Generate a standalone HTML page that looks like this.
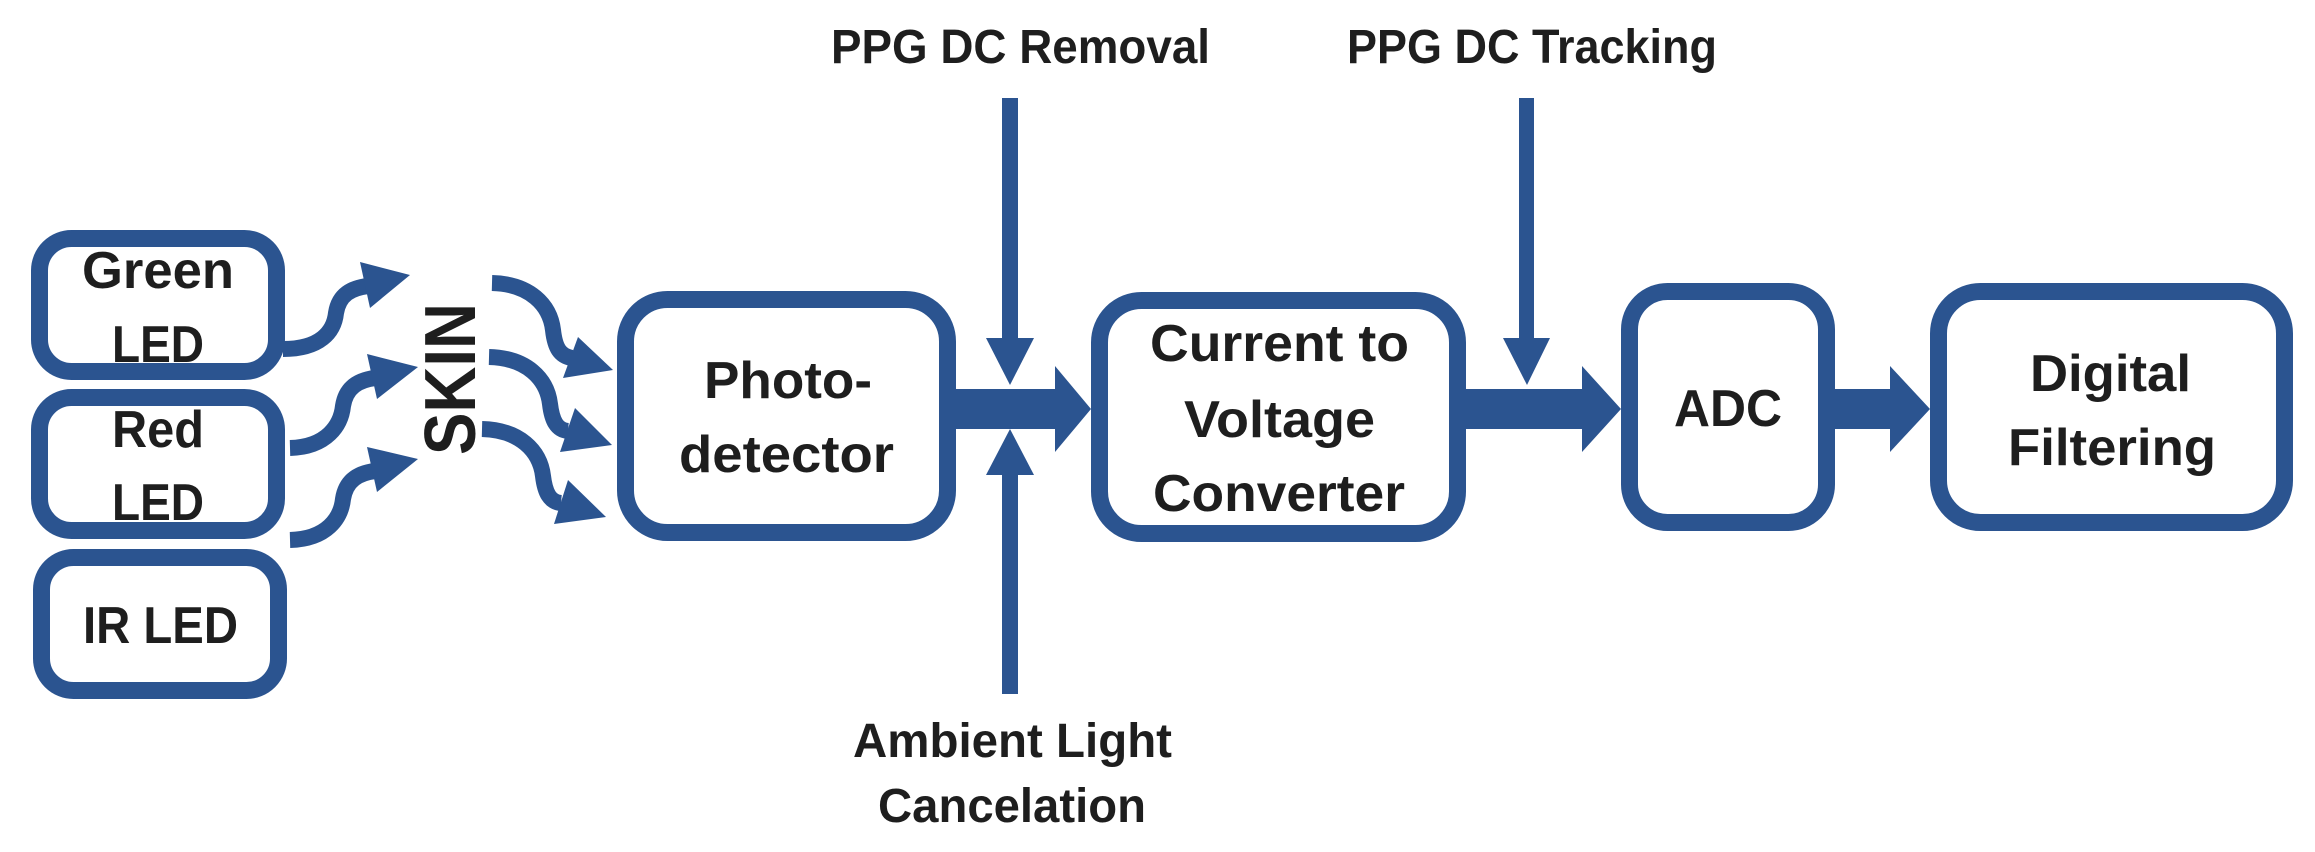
<!DOCTYPE html>
<html><head><meta charset="utf-8"><style>
html,body{margin:0;padding:0;background:#fff;}
svg{display:block;}
text{font-family:"Liberation Sans",sans-serif;font-weight:bold;fill:#1e1e1e;}
</style></head><body>
<svg width="2315" height="852" viewBox="0 0 2315 852" xmlns="http://www.w3.org/2000/svg">
<g fill="none" stroke="#2B5490" stroke-width="17">
<rect x="39.5" y="238.5" width="237" height="133" rx="32"/>
<rect x="39.5" y="397.5" width="237" height="133" rx="32"/>
<rect x="41.5" y="557.5" width="237" height="133" rx="32"/>
<rect x="625.5" y="299.5" width="322" height="233" rx="42"/>
<rect x="1099.5" y="300.5" width="358" height="233" rx="42"/>
<rect x="1629.5" y="291.5" width="197" height="231" rx="38"/>
<rect x="1938.5" y="291.5" width="346" height="231" rx="42"/>
</g>
<g fill="none" stroke="#2B5490" stroke-width="16">
<path d="M283 349 C320 349 334 332 336 313 C339 294 352 288 368 286"/>
<path d="M290 448 C327 447 341 425 343 406 C346 387 359 380 375 378"/>
<path d="M290 540 C327 539 341 518 343 499 C346 480 359 473 375 471"/>
<path d="M492 283 C530 284 550 305 553 330 C555 348 560 356 572 358"/>
<path d="M489 357 C527 358 547 379 550 404 C552 421 557 430 568 431"/>
<path d="M482 429 C520 430 540 451 543 476 C545 493 550 502 561 503"/>
</g>
<g fill="#2B5490">
<polygon points="360,262 410,275 370,308"/>
<polygon points="367,354 418,367 377,399"/>
<polygon points="367,447 418,459 377,492"/>
<polygon points="578,337 613,370 563,378"/>
<polygon points="575,408 612,445 560,452"/>
<polygon points="568,480 606,517 554,524"/>
<!-- main arrows -->
<rect x="950" y="389" width="110" height="40"/>
<polygon points="1055,366 1091,409 1055,452"/>
<rect x="1462" y="389" width="125" height="40"/>
<polygon points="1582,366 1621,409 1582,452"/>
<rect x="1830" y="389" width="65" height="40"/>
<polygon points="1890,366 1930,409 1890,452"/>
<!-- vertical arrows -->
<rect x="1002" y="98" width="16" height="245"/>
<polygon points="986,338 1034,338 1010,385"/>
<rect x="1002" y="470" width="16" height="224"/>
<polygon points="986,475 1034,475 1010,429"/>
<rect x="1519" y="98" width="15" height="245"/>
<polygon points="1503,338 1550,338 1527,385"/>
</g>
<g font-size="48">
<text x="831" y="63" textLength="379" lengthAdjust="spacingAndGlyphs">PPG DC Removal</text>
<text x="1347" y="63" textLength="370" lengthAdjust="spacingAndGlyphs">PPG DC Tracking</text>
<text x="853" y="757" textLength="319" lengthAdjust="spacingAndGlyphs">Ambient Light</text>
<text x="878" y="822" textLength="268" lengthAdjust="spacingAndGlyphs">Cancelation</text>
</g>
<g font-size="52">
<text x="82" y="288" textLength="152" lengthAdjust="spacingAndGlyphs">Green</text>
<text x="112" y="362" textLength="92" lengthAdjust="spacingAndGlyphs">LED</text>
<text x="112" y="447" textLength="92" lengthAdjust="spacingAndGlyphs">Red</text>
<text x="112" y="520" textLength="92" lengthAdjust="spacingAndGlyphs">LED</text>
<text x="83" y="643" textLength="155" lengthAdjust="spacingAndGlyphs">IR LED</text>
<text x="704" y="398" textLength="168" lengthAdjust="spacingAndGlyphs">Photo-</text>
<text x="679" y="472" textLength="215" lengthAdjust="spacingAndGlyphs">detector</text>
<text x="1150" y="361" textLength="259" lengthAdjust="spacingAndGlyphs">Current to</text>
<text x="1184" y="437" textLength="191" lengthAdjust="spacingAndGlyphs">Voltage</text>
<text x="1153" y="511" textLength="252" lengthAdjust="spacingAndGlyphs">Converter</text>
<text x="1674" y="426" textLength="108" lengthAdjust="spacingAndGlyphs">ADC</text>
<text x="2030" y="391" textLength="161" lengthAdjust="spacingAndGlyphs">Digital</text>
<text x="2008" y="465" textLength="208" lengthAdjust="spacingAndGlyphs">Filtering</text>
</g>
<text font-size="72" transform="translate(475,455) rotate(-90)" x="0" y="0" textLength="152" lengthAdjust="spacingAndGlyphs">SKIN</text>
</svg>
</body></html>
